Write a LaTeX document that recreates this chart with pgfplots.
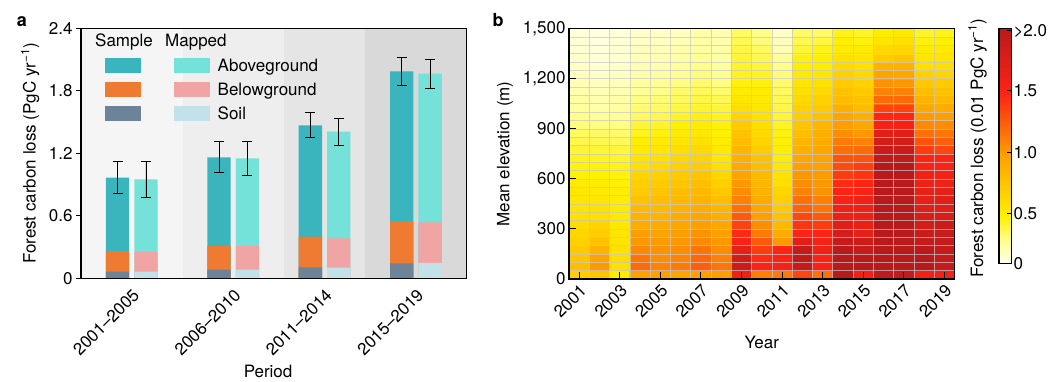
\documentclass[border=0pt]{standalone}
\usepackage{pgfplots}
\pgfplotsset{compat=1.18}
\usepackage{fontspec}
\setmainfont{TeX Gyre Heros}
\definecolor{sAbove}{RGB}{58,180,189}
\definecolor{mAbove}{RGB}{116,226,216}
\definecolor{sBelow}{RGB}{238,123,49}
\definecolor{mBelow}{RGB}{241,164,164}
\definecolor{sSoil}{RGB}{108,131,152}
\definecolor{mSoil}{RGB}{195,225,232}
\definecolor{bandA}{RGB}{245,245,245}
\definecolor{bandB}{RGB}{238,238,238}
\definecolor{bandC}{RGB}{229,229,229}
\definecolor{bandD}{RGB}{217,217,217}
\begin{document}
\begin{tikzpicture}[x=1pt,y=1pt]
\useasboundingbox (0,0) rectangle (1048,381);
\pgfplotsset{every axis/.append style={font=\fontsize{17}{20}\selectfont}}
% ---------------- Panel a ----------------
\begin{axis}[
  at={(81pt,102.7pt)}, anchor=south west, scale only axis,
  width=385.7pt, height=250pt,
  xmin=2000.5, xmax=2019.5, ymin=0, ymax=2.4,
  axis on top,
  axis line style={line width=1.3pt},
  xtick={2003,2008,2012.5,2017},
  xticklabels={2001–2005,2006–2010,2011–2014,2015–2019},
  xticklabel style={rotate=45, anchor=north east, inner sep=3pt},
  x tick style={draw=none},
  ytick={0,0.6,1.2,1.8,2.4},
  yticklabels={0,0.6,1.2,1.8,2.4},
  ytick pos=left, tick align=outside, major tick length=5pt,
  y tick style={line width=1pt, black},
  xlabel={Period}, ylabel={Forest carbon loss (PgC yr\textsuperscript{−1})},
  every axis x label/.style={at={(axis description cs:0.485,-0.373)}, anchor=center},
  every axis y label/.style={at={(axis description cs:-0.132,0.5)}, rotate=90, anchor=center},
]
\fill[bandA] (axis cs:2000.5,0) rectangle (axis cs:2005.5,2.4);
\fill[bandB] (axis cs:2005.5,0) rectangle (axis cs:2010.5,2.4);
\fill[bandC] (axis cs:2010.5,0) rectangle (axis cs:2014.5,2.4);
\fill[bandD] (axis cs:2014.5,0) rectangle (axis cs:2019.5,2.4);
% Sample totals (aboveground top) with error bars
\addplot[ybar, bar width=1.15, bar shift=0pt, fill=sAbove, draw=none,
  error bars/.cd, y dir=both, y explicit,
  error bar style={line width=0.9pt, black},
  error mark options={rotate=90, black, line width=0.9pt, mark size=5pt}]
  coordinates {(2002.3,0.966) +- (0,0.154) (2007.3,1.162) +- (0,0.150) (2011.8,1.469) +- (0,0.121) (2016.3,1.987) +- (0,0.134)};
\addplot[ybar, bar width=1.15, bar shift=0pt, fill=sBelow, draw=none]
  coordinates {(2002.3,0.262) (2007.3,0.314) (2011.8,0.400) (2016.3,0.547)};
\addplot[ybar, bar width=1.15, bar shift=0pt, fill=sSoil, draw=none]
  coordinates {(2002.3,0.064) (2007.3,0.083) (2011.8,0.106) (2016.3,0.144)};
% Mapped
\addplot[ybar, bar width=1.15, bar shift=0pt, fill=mAbove, draw=none,
  error bars/.cd, y dir=both, y explicit,
  error bar style={line width=0.9pt, black},
  error mark options={rotate=90, black, line width=0.9pt, mark size=5pt}]
  coordinates {(2003.7,0.950) +- (0,0.176) (2008.7,1.152) +- (0,0.163) (2013.2,1.408) +- (0,0.128) (2017.7,1.965) +- (0,0.139)};
\addplot[ybar, bar width=1.15, bar shift=0pt, fill=mBelow, draw=none]
  coordinates {(2003.7,0.256) (2008.7,0.310) (2013.2,0.384) (2017.7,0.538)};
\addplot[ybar, bar width=1.15, bar shift=0pt, fill=mSoil, draw=none]
  coordinates {(2003.7,0.064) (2008.7,0.083) (2013.2,0.102) (2017.7,0.147)};
\end{axis}
% legend of panel a
\begin{scope}[font=\fontsize{17}{20}\selectfont]
\node[anchor=base west, inner sep=0] at (95,334) {Sample};
\node[anchor=base west, inner sep=0] at (165,334) {Mapped};
\fill[sAbove] (105,308.25) rectangle (140.7,322.75);
\fill[mAbove] (174,308.25) rectangle (210,322.75);
\fill[sBelow] (105,284.25) rectangle (140.7,298.75);
\fill[mBelow] (174,284.25) rectangle (210,298.75);
\fill[sSoil] (105,260.25) rectangle (140.7,274.75);
\fill[mSoil] (174,260.25) rectangle (210,274.75);
\node[anchor=base west, inner sep=0] at (217.5,309.4) {Aboveground};
\node[anchor=base west, inner sep=0] at (217.5,285.4) {Belowground};
\node[anchor=base west, inner sep=0] at (217.5,261.4) {Soil};
\end{scope}
\node[font=\fontsize{18}{20}\selectfont\bfseries] at (22,359) {a};
\node[font=\fontsize{18}{20}\selectfont\bfseries] at (498,361) {b};
% colour bar label
\node[rotate=90, font=\fontsize{17}{20}\selectfont] at (977.5,233) {Forest carbon loss (0.01 PgC yr\textsuperscript{−1})};
% ---------------- Panel b ----------------
\begin{axis}[
  at={(569pt,102pt)}, anchor=south west, scale only axis,
  width=385.5pt, height=250.3pt,
  xmin=2000.5, xmax=2019.5, ymin=0, ymax=1500,
  axis on top,
  axis line style={line width=1.3pt},
  xtick={2001,2003,...,2019},
  xticklabels={2001,2003,2005,2007,2009,2011,2013,2015,2017,2019},
  xticklabel style={rotate=45, anchor=north east, inner sep=3pt},
  ytick={0,300,600,900,1200,1500},
  yticklabels={0,300,600,900,{1,200},{1,500}},
  xtick pos=bottom, ytick pos=left, tick align=inside, major tick length=7pt,
  tick style={line width=1pt, black},
  minor xtick={2001.5,2002.5,...,2018.5},
  minor ytick={50,100,...,1450},
  minor tick length=0pt,
  xminorgrids, yminorgrids,
  minor grid style={draw=white!78!black, opacity=0.7, line width=0.6pt},
  xlabel={Year}, ylabel={Mean elevation (m)},
  every axis x label/.style={at={(axis description cs:0.5,-0.252)}, anchor=center},
  every axis y label/.style={at={(axis description cs:-0.166,0.5)}, rotate=90, anchor=center},
  colormap={heat}{rgb255(0pt)=(255,255,238); rgb255(18pt)=(255,255,150); rgb255(40pt)=(255,240,0); rgb255(92pt)=(255,160,0); rgb255(145pt)=(255,35,20); rgb255(200pt)=(184,26,28)},
  point meta min=0, point meta max=2,
  colorbar,
  colorbar style={
    at={(parent axis.south east)}, anchor=south west,
    xshift=36pt, yshift=15.7pt,
    scale only axis, width=12.3pt, height=235pt,
    axis line style={line width=1.2pt},
    ytick={0,0.42,0.944,1.468,1.98},
    yticklabels={0,0.5,1.0,1.5,{>2.0}},
    yticklabel style={inner sep=2pt},
    ytick pos=right, tick align=inside, major tick length=4pt,
    tick style={line width=1pt, black},
    font=\fontsize{17}{20}\selectfont,
  },
]
\addplot[matrix plot*, point meta=explicit, mesh/cols=19, mesh/rows=30, mesh/ordering=y varies] coordinates {
(2001,25)[0.63] (2001,75)[0.72] (2001,125)[0.68] (2001,175)[0.64] (2001,225)[0.60] (2001,275)[0.57] (2001,325)[0.53] (2001,375)[0.50] (2001,425)[0.48] (2001,475)[0.46] (2001,525)[0.45] (2001,575)[0.43] (2001,625)[0.40] (2001,675)[0.38] (2001,725)[0.36] (2001,775)[0.32] (2001,825)[0.29] (2001,875)[0.26] (2001,925)[0.22] (2001,975)[0.20] (2001,1025)[0.17] (2001,1075)[0.15] (2001,1125)[0.13] (2001,1175)[0.11] (2001,1225)[0.10] (2001,1275)[0.08] (2001,1325)[0.07] (2001,1375)[0.06] (2001,1425)[0.05] (2001,1475)[0.04]
(2002,25)[0.68] (2002,75)[0.95] (2002,125)[0.90] (2002,175)[0.80] (2002,225)[0.70] (2002,275)[0.63] (2002,325)[0.58] (2002,375)[0.52] (2002,425)[0.50] (2002,475)[0.46] (2002,525)[0.44] (2002,575)[0.42] (2002,625)[0.40] (2002,675)[0.38] (2002,725)[0.35] (2002,775)[0.32] (2002,825)[0.28] (2002,875)[0.25] (2002,925)[0.21] (2002,975)[0.18] (2002,1025)[0.15] (2002,1075)[0.13] (2002,1125)[0.11] (2002,1175)[0.09] (2002,1225)[0.08] (2002,1275)[0.06] (2002,1325)[0.05] (2002,1375)[0.04] (2002,1425)[0.03] (2002,1475)[0.03]
(2003,25)[0.42] (2003,75)[0.50] (2003,125)[0.52] (2003,175)[0.50] (2003,225)[0.48] (2003,275)[0.47] (2003,325)[0.45] (2003,375)[0.44] (2003,425)[0.43] (2003,475)[0.42] (2003,525)[0.41] (2003,575)[0.40] (2003,625)[0.39] (2003,675)[0.37] (2003,725)[0.34] (2003,775)[0.31] (2003,825)[0.27] (2003,875)[0.24] (2003,925)[0.21] (2003,975)[0.18] (2003,1025)[0.16] (2003,1075)[0.14] (2003,1125)[0.12] (2003,1175)[0.10] (2003,1225)[0.09] (2003,1275)[0.07] (2003,1325)[0.06] (2003,1375)[0.05] (2003,1425)[0.05] (2003,1475)[0.04]
(2004,25)[0.92] (2004,75)[1.15] (2004,125)[1.10] (2004,175)[1.02] (2004,225)[0.96] (2004,275)[0.93] (2004,325)[0.85] (2004,375)[0.80] (2004,425)[0.75] (2004,475)[0.70] (2004,525)[0.65] (2004,575)[0.62] (2004,625)[0.58] (2004,675)[0.52] (2004,725)[0.48] (2004,775)[0.44] (2004,825)[0.41] (2004,875)[0.36] (2004,925)[0.32] (2004,975)[0.27] (2004,1025)[0.24] (2004,1075)[0.21] (2004,1125)[0.18] (2004,1175)[0.16] (2004,1225)[0.14] (2004,1275)[0.12] (2004,1325)[0.11] (2004,1375)[0.10] (2004,1425)[0.08] (2004,1475)[0.07]
(2005,25)[0.92] (2005,75)[1.05] (2005,125)[1.00] (2005,175)[0.98] (2005,225)[0.94] (2005,275)[0.90] (2005,325)[0.85] (2005,375)[0.80] (2005,425)[0.76] (2005,475)[0.72] (2005,525)[0.68] (2005,575)[0.64] (2005,625)[0.60] (2005,675)[0.55] (2005,725)[0.50] (2005,775)[0.46] (2005,825)[0.43] (2005,875)[0.38] (2005,925)[0.34] (2005,975)[0.29] (2005,1025)[0.26] (2005,1075)[0.23] (2005,1125)[0.20] (2005,1175)[0.18] (2005,1225)[0.16] (2005,1275)[0.13] (2005,1325)[0.12] (2005,1375)[0.11] (2005,1425)[0.09] (2005,1475)[0.08]
(2006,25)[0.90] (2006,75)[1.08] (2006,125)[1.04] (2006,175)[1.00] (2006,225)[0.96] (2006,275)[0.93] (2006,325)[0.88] (2006,375)[0.85] (2006,425)[0.80] (2006,475)[0.76] (2006,525)[0.73] (2006,575)[0.68] (2006,625)[0.65] (2006,675)[0.60] (2006,725)[0.56] (2006,775)[0.52] (2006,825)[0.48] (2006,875)[0.43] (2006,925)[0.40] (2006,975)[0.35] (2006,1025)[0.30] (2006,1075)[0.27] (2006,1125)[0.24] (2006,1175)[0.21] (2006,1225)[0.19] (2006,1275)[0.17] (2006,1325)[0.15] (2006,1375)[0.13] (2006,1425)[0.11] (2006,1475)[0.10]
(2007,25)[0.92] (2007,75)[1.20] (2007,125)[1.16] (2007,175)[1.10] (2007,225)[1.02] (2007,275)[0.98] (2007,325)[0.92] (2007,375)[0.88] (2007,425)[0.83] (2007,475)[0.79] (2007,525)[0.76] (2007,575)[0.72] (2007,625)[0.68] (2007,675)[0.63] (2007,725)[0.58] (2007,775)[0.54] (2007,825)[0.50] (2007,875)[0.45] (2007,925)[0.42] (2007,975)[0.38] (2007,1025)[0.34] (2007,1075)[0.30] (2007,1125)[0.27] (2007,1175)[0.24] (2007,1225)[0.22] (2007,1275)[0.20] (2007,1325)[0.18] (2007,1375)[0.16] (2007,1425)[0.15] (2007,1475)[0.14]
(2008,25)[0.92] (2008,75)[1.10] (2008,125)[1.05] (2008,175)[1.00] (2008,225)[0.96] (2008,275)[0.92] (2008,325)[0.88] (2008,375)[0.82] (2008,425)[0.78] (2008,475)[0.72] (2008,525)[0.66] (2008,575)[0.61] (2008,625)[0.56] (2008,675)[0.50] (2008,725)[0.46] (2008,775)[0.44] (2008,825)[0.42] (2008,875)[0.40] (2008,925)[0.38] (2008,975)[0.36] (2008,1025)[0.32] (2008,1075)[0.28] (2008,1125)[0.24] (2008,1175)[0.21] (2008,1225)[0.19] (2008,1275)[0.17] (2008,1325)[0.15] (2008,1375)[0.14] (2008,1425)[0.13] (2008,1475)[0.12]
(2009,25)[1.55] (2009,75)[1.85] (2009,125)[1.82] (2009,175)[1.65] (2009,225)[1.50] (2009,275)[1.42] (2009,325)[1.32] (2009,375)[1.22] (2009,425)[1.12] (2009,475)[1.05] (2009,525)[1.00] (2009,575)[0.96] (2009,625)[0.90] (2009,675)[0.86] (2009,725)[0.82] (2009,775)[0.78] (2009,825)[0.74] (2009,875)[0.70] (2009,925)[0.64] (2009,975)[0.58] (2009,1025)[0.52] (2009,1075)[0.46] (2009,1125)[0.42] (2009,1175)[0.39] (2009,1225)[0.36] (2009,1275)[0.34] (2009,1325)[0.32] (2009,1375)[0.30] (2009,1425)[0.28] (2009,1475)[0.26]
(2010,25)[1.06] (2010,75)[1.48] (2010,125)[1.42] (2010,175)[1.35] (2010,225)[1.22] (2010,275)[1.08] (2010,325)[1.00] (2010,375)[0.92] (2010,425)[0.88] (2010,475)[0.84] (2010,525)[0.80] (2010,575)[0.78] (2010,625)[0.75] (2010,675)[0.72] (2010,725)[0.70] (2010,775)[0.62] (2010,825)[0.58] (2010,875)[0.55] (2010,925)[0.52] (2010,975)[0.50] (2010,1025)[0.47] (2010,1075)[0.44] (2010,1125)[0.42] (2010,1175)[0.38] (2010,1225)[0.35] (2010,1275)[0.32] (2010,1325)[0.28] (2010,1375)[0.26] (2010,1425)[0.22] (2010,1475)[0.20]
(2011,25)[1.08] (2011,75)[1.52] (2011,125)[1.50] (2011,175)[1.45] (2011,225)[0.95] (2011,275)[0.85] (2011,325)[0.76] (2011,375)[0.70] (2011,425)[0.64] (2011,475)[0.60] (2011,525)[0.56] (2011,575)[0.52] (2011,625)[0.49] (2011,675)[0.46] (2011,725)[0.42] (2011,775)[0.41] (2011,825)[0.40] (2011,875)[0.38] (2011,925)[0.35] (2011,975)[0.33] (2011,1025)[0.30] (2011,1075)[0.28] (2011,1125)[0.26] (2011,1175)[0.24] (2011,1225)[0.22] (2011,1275)[0.20] (2011,1325)[0.18] (2011,1375)[0.12] (2011,1425)[0.10] (2011,1475)[0.08]
(2012,25)[1.30] (2012,75)[1.90] (2012,125)[1.95] (2012,175)[1.90] (2012,225)[1.68] (2012,275)[1.45] (2012,325)[1.38] (2012,375)[1.30] (2012,425)[1.18] (2012,475)[1.12] (2012,525)[1.05] (2012,575)[1.00] (2012,625)[0.96] (2012,675)[0.92] (2012,725)[0.88] (2012,775)[0.82] (2012,825)[0.78] (2012,875)[0.72] (2012,925)[0.68] (2012,975)[0.62] (2012,1025)[0.60] (2012,1075)[0.55] (2012,1125)[0.50] (2012,1175)[0.47] (2012,1225)[0.44] (2012,1275)[0.41] (2012,1325)[0.38] (2012,1375)[0.32] (2012,1425)[0.28] (2012,1475)[0.25]
(2013,25)[1.12] (2013,75)[1.50] (2013,125)[1.50] (2013,175)[1.55] (2013,225)[1.52] (2013,275)[1.45] (2013,325)[1.35] (2013,375)[1.22] (2013,425)[1.10] (2013,475)[1.05] (2013,525)[0.98] (2013,575)[0.96] (2013,625)[0.94] (2013,675)[0.92] (2013,725)[0.90] (2013,775)[0.88] (2013,825)[0.85] (2013,875)[0.82] (2013,925)[0.78] (2013,975)[0.70] (2013,1025)[0.65] (2013,1075)[0.60] (2013,1125)[0.55] (2013,1175)[0.50] (2013,1225)[0.46] (2013,1275)[0.42] (2013,1325)[0.40] (2013,1375)[0.36] (2013,1425)[0.30] (2013,1475)[0.25]
(2014,25)[2.00] (2014,75)[2.00] (2014,125)[2.00] (2014,175)[1.98] (2014,225)[1.90] (2014,275)[1.80] (2014,325)[1.70] (2014,375)[1.60] (2014,425)[1.55] (2014,475)[1.50] (2014,525)[1.45] (2014,575)[1.42] (2014,625)[1.35] (2014,675)[1.28] (2014,725)[1.25] (2014,775)[1.13] (2014,825)[1.08] (2014,875)[1.00] (2014,925)[0.93] (2014,975)[0.88] (2014,1025)[0.82] (2014,1075)[0.74] (2014,1125)[0.70] (2014,1175)[0.65] (2014,1225)[0.60] (2014,1275)[0.55] (2014,1325)[0.50] (2014,1375)[0.44] (2014,1425)[0.40] (2014,1475)[0.36]
(2015,25)[1.55] (2015,75)[2.00] (2015,125)[1.98] (2015,175)[1.90] (2015,225)[1.85] (2015,275)[1.65] (2015,325)[1.62] (2015,375)[1.60] (2015,425)[1.58] (2015,475)[1.55] (2015,525)[1.50] (2015,575)[1.45] (2015,625)[1.38] (2015,675)[1.34] (2015,725)[1.25] (2015,775)[1.15] (2015,825)[1.05] (2015,875)[0.96] (2015,925)[0.88] (2015,975)[0.82] (2015,1025)[0.74] (2015,1075)[0.70] (2015,1125)[0.64] (2015,1175)[0.60] (2015,1225)[0.55] (2015,1275)[0.50] (2015,1325)[0.47] (2015,1375)[0.44] (2015,1425)[0.38] (2015,1475)[0.34]
(2016,25)[1.95] (2016,75)[2.00] (2016,125)[2.00] (2016,175)[2.00] (2016,225)[2.00] (2016,275)[2.00] (2016,325)[2.00] (2016,375)[2.00] (2016,425)[2.00] (2016,475)[2.00] (2016,525)[2.00] (2016,575)[2.00] (2016,625)[2.00] (2016,675)[2.00] (2016,725)[1.95] (2016,775)[1.88] (2016,825)[1.80] (2016,875)[1.68] (2016,925)[1.52] (2016,975)[1.45] (2016,1025)[1.32] (2016,1075)[1.15] (2016,1125)[1.05] (2016,1175)[0.98] (2016,1225)[0.90] (2016,1275)[0.80] (2016,1325)[0.65] (2016,1375)[0.55] (2016,1425)[0.47] (2016,1475)[0.42]
(2017,25)[1.92] (2017,75)[2.00] (2017,125)[2.00] (2017,175)[2.00] (2017,225)[2.00] (2017,275)[2.00] (2017,325)[2.00] (2017,375)[2.00] (2017,425)[2.00] (2017,475)[2.00] (2017,525)[2.00] (2017,575)[2.00] (2017,625)[2.00] (2017,675)[2.00] (2017,725)[1.95] (2017,775)[1.88] (2017,825)[1.80] (2017,875)[1.68] (2017,925)[1.52] (2017,975)[1.45] (2017,1025)[1.32] (2017,1075)[1.15] (2017,1125)[1.05] (2017,1175)[0.96] (2017,1225)[0.88] (2017,1275)[0.80] (2017,1325)[0.68] (2017,1375)[0.58] (2017,1425)[0.50] (2017,1475)[0.45]
(2018,25)[1.55] (2018,75)[2.00] (2018,125)[2.00] (2018,175)[1.98] (2018,225)[1.90] (2018,275)[1.85] (2018,325)[1.80] (2018,375)[1.75] (2018,425)[1.70] (2018,475)[1.65] (2018,525)[1.62] (2018,575)[1.58] (2018,625)[1.55] (2018,675)[1.50] (2018,725)[1.45] (2018,775)[1.35] (2018,825)[1.25] (2018,875)[1.12] (2018,925)[1.02] (2018,975)[0.94] (2018,1025)[0.86] (2018,1075)[0.80] (2018,1125)[0.72] (2018,1175)[0.66] (2018,1225)[0.60] (2018,1275)[0.52] (2018,1325)[0.47] (2018,1375)[0.44] (2018,1425)[0.38] (2018,1475)[0.34]
(2019,25)[1.55] (2019,75)[1.90] (2019,125)[1.90] (2019,175)[1.90] (2019,225)[1.90] (2019,275)[1.88] (2019,325)[1.85] (2019,375)[1.75] (2019,425)[1.70] (2019,475)[1.68] (2019,525)[1.65] (2019,575)[1.55] (2019,625)[1.52] (2019,675)[1.50] (2019,725)[1.45] (2019,775)[1.30] (2019,825)[1.20] (2019,875)[1.10] (2019,925)[1.00] (2019,975)[0.92] (2019,1025)[0.84] (2019,1075)[0.76] (2019,1125)[0.70] (2019,1175)[0.64] (2019,1225)[0.58] (2019,1275)[0.52] (2019,1325)[0.48] (2019,1375)[0.44] (2019,1425)[0.40] (2019,1475)[0.36]
};
\end{axis}
\end{tikzpicture}
\end{document}
